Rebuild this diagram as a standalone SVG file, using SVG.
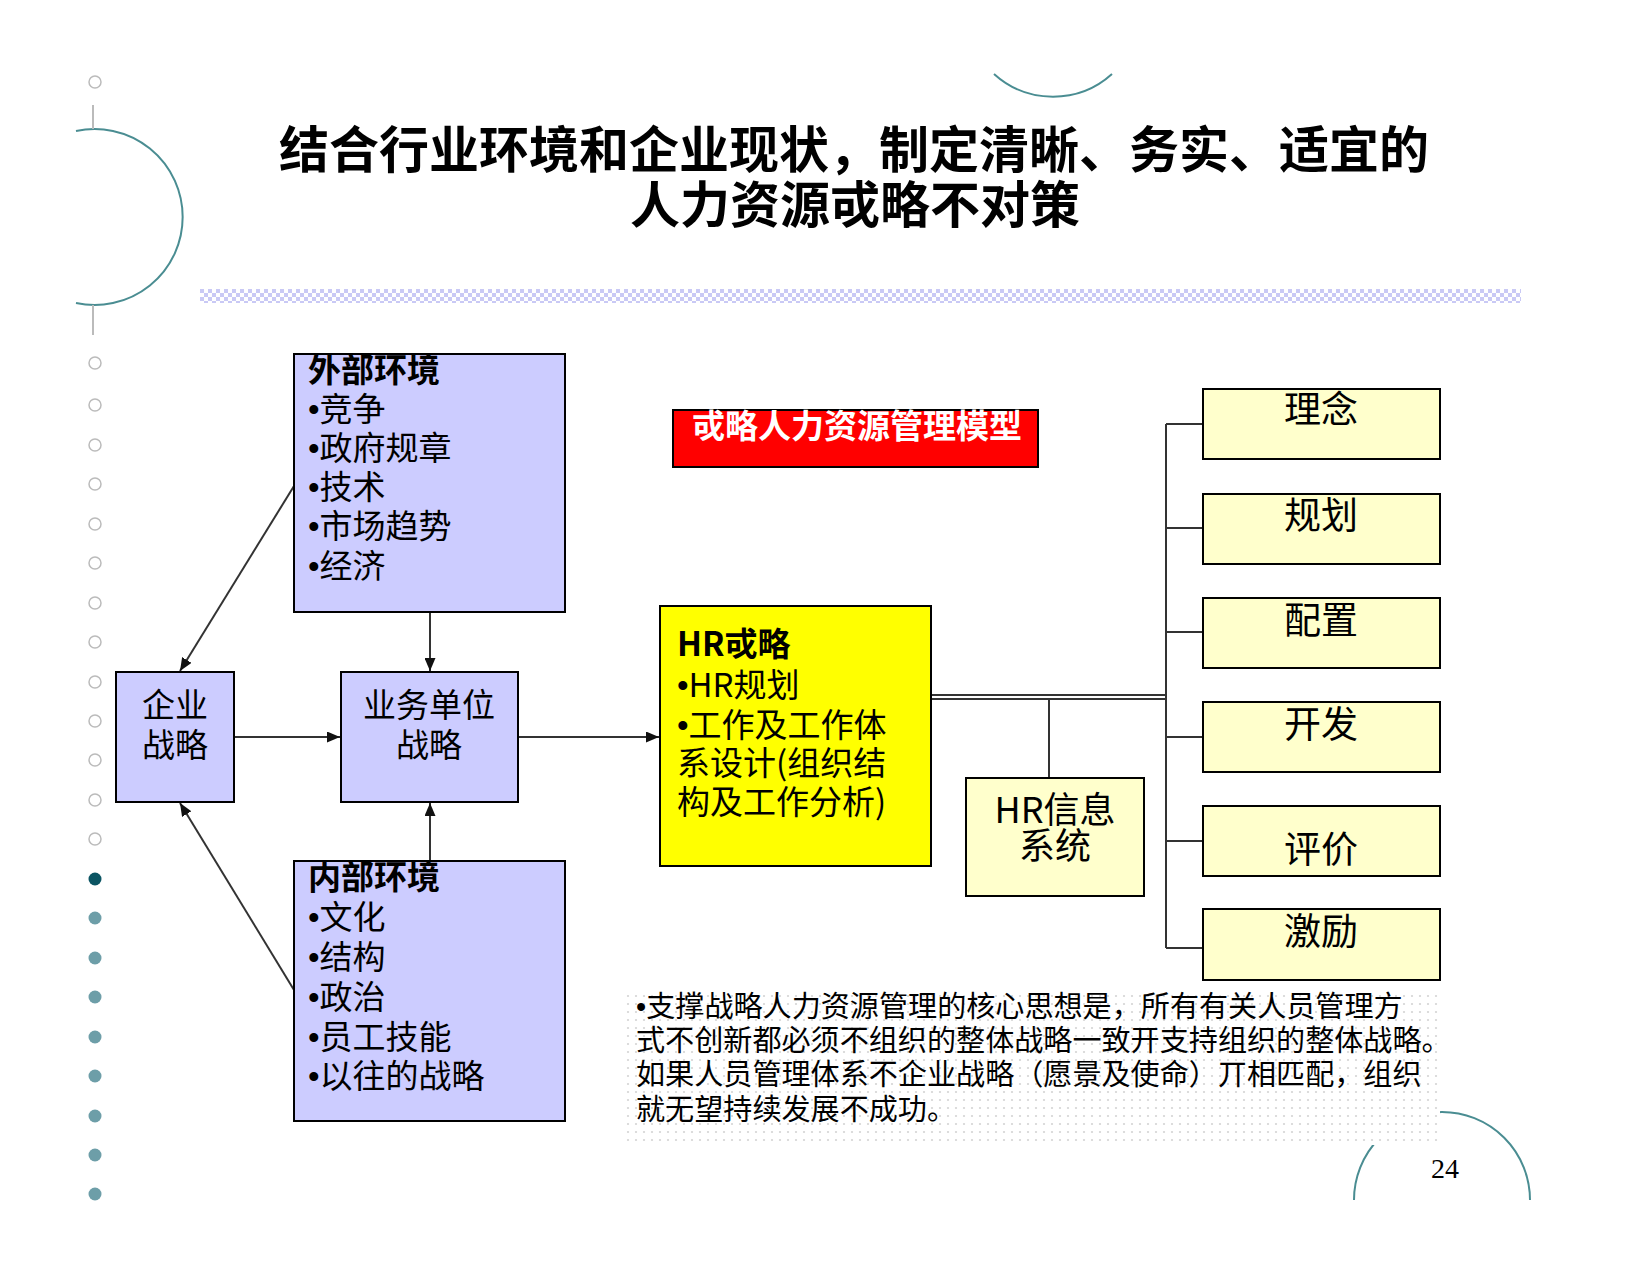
<svg xmlns="http://www.w3.org/2000/svg" width="1650" height="1275" viewBox="0 0 1650 1275">
<style>
text{font-family:"Noto Sans CJK SC","Noto Sans",sans-serif;fill:#000}
.title{font-size:50px;font-weight:bold;text-anchor:middle}
.blue{fill:#ccccff;stroke:#000;stroke-width:2}
.lt{fill:#ffffcc;stroke:#000;stroke-width:2}
.t33{font-size:33px}
.b33{font-size:33px;font-weight:bold}
.c{text-anchor:middle}
.r37{font-size:37px;text-anchor:middle}
.bu{font-family:"Liberation Sans",Arial,sans-serif}
.conn{stroke:#333;stroke-width:2;fill:none}
.arr{stroke:#333;stroke-width:2;fill:none;marker-end:url(#ah)}
.deco{stroke:#4a8d92;stroke-width:2;fill:none}
.hollow{fill:#fff;stroke:#bbb;stroke-width:1.5}
.dot{fill:#6d9ea8}
</style>
<defs>
<marker id="ah" markerWidth="13" markerHeight="11" refX="13" refY="5.5" orient="auto" markerUnits="userSpaceOnUse">
<path d="M0,0 L13,5.5 L0,11 z" fill="#111"/>
</marker>
<pattern id="checker" width="8" height="8" patternUnits="userSpaceOnUse" x="200" y="289">
<rect width="8" height="8" fill="#fff"/>
<rect x="0" y="0" width="4" height="4" fill="#c9c9f5"/>
<rect x="4" y="4" width="4" height="4" fill="#c9c9f5"/>
</pattern>
<pattern id="dots" width="8" height="8" patternUnits="userSpaceOnUse">
<rect width="8" height="8" fill="#fff"/>
<circle cx="4" cy="4" r="1.1" fill="#d4d4d4"/>
</pattern>
</defs>
<rect width="1650" height="1275" fill="#fff"/>

<g id="decoration">
<path class="deco" d="M76,131 A88,88 0 1 1 76,303"/>
<line x1="93" y1="105" x2="93" y2="129" stroke="#bbb" stroke-width="2"/>
<line x1="93" y1="305" x2="93" y2="335" stroke="#bbb" stroke-width="2"/>
<path class="deco" d="M994,74 A88,88 0 0 0 1112,74"/>
<path class="deco" d="M1354,1200 A88,88 0 0 1 1530,1200"/>
<rect x="200" y="289" width="1321" height="14" fill="url(#checker)"/>
<circle class="hollow" cx="95" cy="82" r="6"/>
<circle class="hollow" cx="95" cy="363" r="6"/>
<circle class="hollow" cx="95" cy="405" r="6"/>
<circle class="hollow" cx="95" cy="445" r="6"/>
<circle class="hollow" cx="95" cy="484" r="6"/>
<circle class="hollow" cx="95" cy="524" r="6"/>
<circle class="hollow" cx="95" cy="563" r="6"/>
<circle class="hollow" cx="95" cy="603" r="6"/>
<circle class="hollow" cx="95" cy="642" r="6"/>
<circle class="hollow" cx="95" cy="682" r="6"/>
<circle class="hollow" cx="95" cy="721" r="6"/>
<circle class="hollow" cx="95" cy="760" r="6"/>
<circle class="hollow" cx="95" cy="800" r="6"/>
<circle class="hollow" cx="95" cy="839" r="6"/>
<circle cx="95" cy="879" r="6.5" fill="#0b5563"/>
<circle class="dot" cx="95" cy="918" r="6.5"/>
<circle class="dot" cx="95" cy="958" r="6.5"/>
<circle class="dot" cx="95" cy="997" r="6.5"/>
<circle class="dot" cx="95" cy="1037" r="6.5"/>
<circle class="dot" cx="95" cy="1076" r="6.5"/>
<circle class="dot" cx="95" cy="1116" r="6.5"/>
<circle class="dot" cx="95" cy="1155" r="6.5"/>
<circle class="dot" cx="95" cy="1194" r="6.5"/>
<rect x="623" y="989" width="817" height="156" fill="url(#dots)"/>
<text x="1445" y="1178" style="font-family:'Liberation Serif',serif;font-size:28px" text-anchor="middle">24</text>
</g>

<g id="title">
<text class="title" x="854" y="168">结合行业环境和企业现状，制定清晰、务实、适宜的</text>
<text class="title" x="855" y="223">人力资源戓略不对策</text>
</g>

<g id="connectors">
<line class="arr" x1="294" y1="486" x2="180" y2="671"/>
<line class="arr" x1="294" y1="990" x2="180" y2="803"/>
<line class="arr" x1="430" y1="612" x2="430" y2="671"/>
<line class="arr" x1="430" y1="861" x2="430" y2="803"/>
<line class="arr" x1="234" y1="737" x2="340" y2="737"/>
<line class="arr" x1="518" y1="737" x2="659" y2="737"/>
<line class="conn" x1="931" y1="695" x2="1166" y2="695" stroke-width="1.6"/>
<line class="conn" x1="931" y1="699" x2="1166" y2="699" stroke-width="1.6"/>
<line class="conn" x1="1049" y1="699" x2="1049" y2="778"/>
<line class="conn" x1="1166" y1="424" x2="1166" y2="948"/>
<line class="conn" x1="1166" y1="424" x2="1203" y2="424"/>
<line class="conn" x1="1166" y1="528" x2="1203" y2="528"/>
<line class="conn" x1="1166" y1="632" x2="1203" y2="632"/>
<line class="conn" x1="1166" y1="737" x2="1203" y2="737" stroke="#666"/>
<line class="conn" x1="1166" y1="841" x2="1203" y2="841" stroke="#666"/>
<line class="conn" x1="1166" y1="948" x2="1203" y2="948" stroke="#666"/>
</g>

<g id="external">
<rect class="blue" x="294" y="354" width="271" height="258"/>
<text class="b33" x="308" y="382">外部环境</text>
<text class="t33" x="308" y="421"><tspan class="bu">•</tspan>竞争</text>
<text class="t33" x="308" y="460"><tspan class="bu">•</tspan>政府规章</text>
<text class="t33" x="308" y="499"><tspan class="bu">•</tspan>技术</text>
<text class="t33" x="308" y="538"><tspan class="bu">•</tspan>市场趋势</text>
<text class="t33" x="308" y="578"><tspan class="bu">•</tspan>经济</text>
</g>

<g id="internal">
<rect class="blue" x="294" y="861" width="271" height="260"/>
<text class="b33" x="308" y="889">内部环境</text>
<text class="t33" x="308" y="929"><tspan class="bu">•</tspan>文化</text>
<text class="t33" x="308" y="969"><tspan class="bu">•</tspan>结构</text>
<text class="t33" x="308" y="1009"><tspan class="bu">•</tspan>政治</text>
<text class="t33" x="308" y="1049"><tspan class="bu">•</tspan>员工技能</text>
<text class="t33" x="308" y="1088"><tspan class="bu">•</tspan>以往的战略</text>
</g>

<g id="corporate">
<rect class="blue" x="116" y="672" width="118" height="130"/>
<text class="t33 c" x="175" y="717">企业</text>
<text class="t33 c" x="175" y="757">战略</text>
</g>

<g id="business">
<rect class="blue" x="341" y="672" width="177" height="130"/>
<text class="t33 c" x="429" y="717">业务单位</text>
<text class="t33 c" x="429" y="757">战略</text>
</g>

<g id="model-label">
<rect x="673" y="410" width="365" height="57" fill="#ff0000" stroke="#000" stroke-width="2"/>
<text x="857" y="438" style="font-size:33px;font-weight:bold;fill:#fff" text-anchor="middle">戓略人力资源管理模型</text>
</g>

<g id="hr-strategy">
<rect x="660" y="606" width="271" height="260" fill="#ffff00" stroke="#000" stroke-width="2"/>
<text class="b33" x="677" y="656">HR戓略</text>
<text class="t33" x="677" y="697"><tspan class="bu">•</tspan>HR规划</text>
<text class="t33" x="677" y="737"><tspan class="bu">•</tspan>工作及工作体</text>
<text class="t33" x="677" y="775">系设计(组织结</text>
<text class="t33" x="677" y="814">构及工作分析)</text>
</g>

<g id="hr-info">
<rect class="lt" x="966" y="778" width="178" height="118" stroke="#333"/>
<text x="1055" y="823" style="font-size:36px" text-anchor="middle">HR信息</text>
<text x="1055" y="859" style="font-size:36px" text-anchor="middle">系统</text>
</g>

<g id="concept"><rect class="lt" x="1203" y="389" width="237" height="70"/><text class="r37" x="1321" y="423">理念</text></g>
<g id="planning"><rect class="lt" x="1203" y="494" width="237" height="70"/><text class="r37" x="1321" y="529">规划</text></g>
<g id="allocation"><rect class="lt" x="1203" y="598" width="237" height="70"/><text class="r37" x="1321" y="634">配置</text></g>
<g id="development"><rect class="lt" x="1203" y="702" width="237" height="70"/><text class="r37" x="1321" y="738">开发</text></g>
<g id="evaluation"><rect class="lt" x="1203" y="806" width="237" height="70"/><text class="r37" x="1321" y="863">评价</text></g>
<g id="incentive"><rect class="lt" x="1203" y="909" width="237" height="71"/><text class="r37" x="1321" y="945">激励</text></g>

<g id="note" style="font-size:29.1px">
<text x="636" y="1017"><tspan class="bu">•</tspan>支撑战略人力资源管理的核心思想是，所有有关人员管理方</text>
<text x="636" y="1051">式不创新都必须不组织的整体战略一致开支持组织的整体战略。</text>
<text x="636" y="1085">如果人员管理体系不企业战略（愿景及使命）丌相匹配，组织</text>
<text x="636" y="1120">就无望持续发展不成功。</text>
</g>
</svg>
